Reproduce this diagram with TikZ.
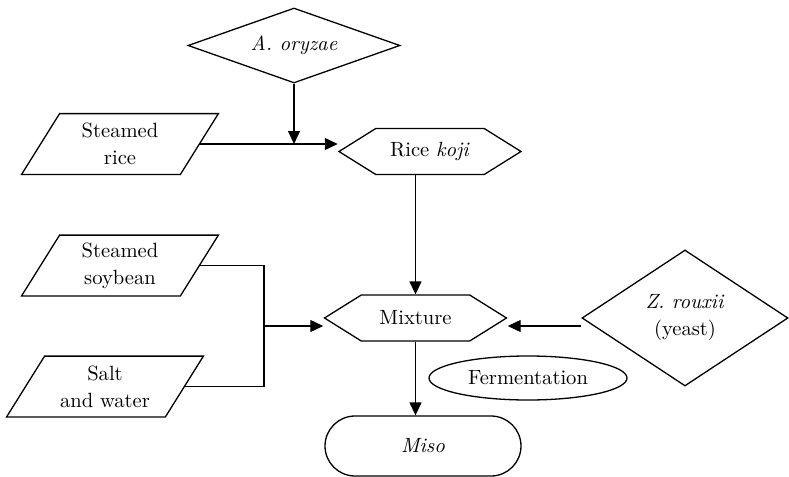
\documentclass[tikz,border=0pt]{standalone}
\usetikzlibrary{shapes.geometric,shapes.symbols,arrows.meta}
\begin{document}
\begin{tikzpicture}[x=0.5pt,y=-0.5pt,
  every node/.style={font=\fontsize{10.3}{13.5}\selectfont, align=center, inner sep=0pt},
  line/.style={line width=0.65pt},
  arr/.style={line, -{Triangle[length=6.5pt,width=6pt]}},
  dia/.style={draw, line, diamond},
  % slanted input box: the node is the mid-height rectangle, the outline is sheared around it
  para/.style={rectangle, minimum width=79pt, minimum height=30pt,
    append after command={\pgfextra{%
      \draw[line] ([xshift=-9.5pt]\tikzlastnode.south west)
        -- ([xshift=-9.5pt]\tikzlastnode.south east)
        -- ([xshift=9.5pt]\tikzlastnode.north east)
        -- ([xshift=9.5pt]\tikzlastnode.north west) -- cycle;}}},
  hexa/.style={draw, line, signal, signal to=west and east, signal pointer angle=64,
    minimum width=91pt, minimum height=23pt},
  oval/.style={draw, line, ellipse, minimum width=99pt, minimum height=22pt},
  term/.style={draw, line, rectangle, rounded corners=15pt, minimum width=98pt, minimum height=30pt}
]
\useasboundingbox (0,0) rectangle (789,477);

% process boxes
\node[dia, aspect=2.83, minimum width=106pt, minimum height=37.5pt] (A) at (294,45.5) {\textit{A. oryzae}};
\node[para] (rice) at (120,144) {Steamed\\rice};
\node[hexa] (koji) at (430,151.5) {Rice \textit{koji}};
\node[para] (soy) at (120,265.5) {Steamed\\soybean};
\node[para] (salt) at (105,386.5) {Salt\\and water};
\node[hexa] (mix) at (415.5,318) {Mixture};
\node[dia, aspect=1.51, minimum width=103pt, minimum height=68pt] (Z) at (685,318) {\textit{Z. rouxii}\\(yeast)};
\node[oval] (ferm) at (528,378) {Fermentation};
\node[term] (miso) at (423,446) {\textit{Miso}};

% connectors
\coordinate (jn) at (264,318);
\draw[arr] (rice.east) -- (rice.east -| koji.west);
\draw[arr] (A.south) -- (A.south |- rice.east);
\draw[arr] (mix.north |- koji.south) -- (mix.north);
\draw[line] (soy.east) -| (jn) |- (salt.east);
\draw[arr] ([yshift=-4pt]jn) -- ([yshift=-4pt]mix.west);
\draw[arr] ([yshift=-4pt]Z.west) -- ([yshift=-4pt]mix.east);
\draw[arr] (mix.south) -- (mix.south |- miso.north);
\end{tikzpicture}
\end{document}
